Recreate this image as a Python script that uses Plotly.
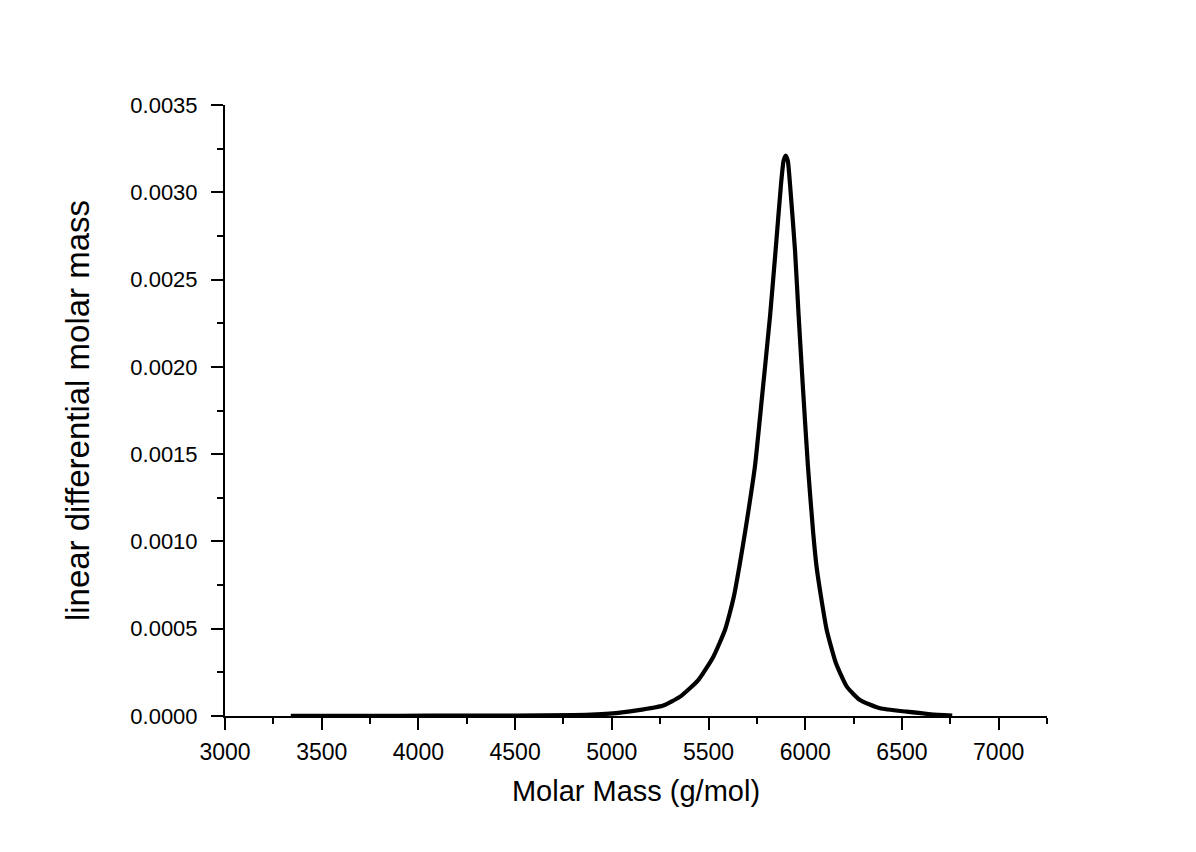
import plotly.graph_objects as go

molar_mass = [3340, 3600, 3900, 4200, 4500, 4800, 5006, 5129, 5266, 5353, 5447, 5525,
              5585, 5610, 5632, 5660, 5690, 5740, 5775, 5818, 5847, 5875, 5888, 5899, 5910,
              5921, 5947, 5966, 5987, 6014, 6041, 6058, 6082, 6111, 6159, 6215, 6283,
              6387, 6525, 6650, 6760]
ldmm = [0.0000005, 0.000001, 0.0000015, 0.000002, 0.000003, 0.000005, 0.000015,
        0.000032, 0.000060, 0.000111, 0.000206, 0.000340, 0.000493, 0.000590,
        0.000690, 0.000860, 0.001060, 0.001430, 0.001810, 0.002290, 0.002670, 0.003050,
        0.003180, 0.003210, 0.003180, 0.003050, 0.002670, 0.002290, 0.001900,
        0.001430, 0.001050, 0.000860, 0.000680, 0.000493, 0.000302, 0.000168,
        0.0000916, 0.0000441, 0.0000246, 0.000010, 0.000003]

x_ticks = [3000, 3500, 4000, 4500, 5000, 5500, 6000, 6500, 7000]
y_ticks = [0.0000, 0.0005, 0.0010, 0.0015, 0.0020, 0.0025, 0.0030, 0.0035]

fig = go.Figure()
fig.add_trace(go.Scatter(x=molar_mass, y=ldmm, mode="lines",
                         line=dict(color="black", width=4.2, shape="spline", smoothing=0.5),
                         showlegend=False, hoverinfo="x+y"))

font = "Liberation Sans, Arial, sans-serif"
fig.update_layout(
    width=1196, height=852,
    margin=dict(l=225, r=149, t=105, b=136),
    paper_bgcolor="white", plot_bgcolor="white",
    font=dict(family=font, color="black", size=22),
)
fig.update_xaxes(
    range=[3000, 7250], tickvals=x_ticks, ticktext=[str(v) for v in x_ticks],
    showline=True, linecolor="black", linewidth=2, showgrid=False, zeroline=False,
    ticks="outside", ticklen=12, tickwidth=2, tickcolor="black",
    tickfont=dict(size=23, family=font), ticklabelstandoff=2,
    minor=dict(dtick=250, tick0=3000, ticks="outside", ticklen=6, tickwidth=2,
               tickcolor="black", showgrid=False),
    title=dict(text="Molar Mass (g/mol)", font=dict(size=29, family=font), standoff=17),
)
fig.update_yaxes(
    range=[0, 0.0035], tickvals=y_ticks, ticktext=[f"{v:.4f}" for v in y_ticks],
    showline=True, linecolor="black", linewidth=2, showgrid=False, zeroline=False,
    ticks="outside", ticklen=12, tickwidth=2, tickcolor="black",
    tickfont=dict(size=22, family=font), ticklabelstandoff=9,
    minor=dict(dtick=0.00025, tick0=0, ticks="outside", ticklen=6, tickwidth=2,
               tickcolor="black", showgrid=False),
    title=dict(text="linear differential molar mass", font=dict(size=33, family=font), standoff=31),
)

fig.write_html("out.html")
